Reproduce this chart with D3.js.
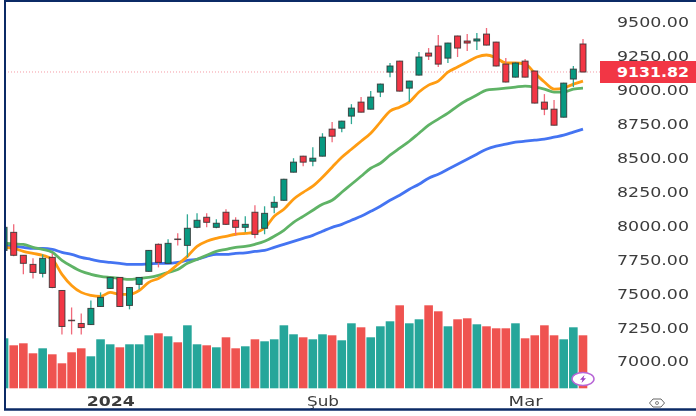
<!DOCTYPE html>
<html>
<head>
<meta charset="utf-8">
<script src="https://cdnjs.cloudflare.com/ajax/libs/d3/7.8.5/d3.min.js"></script>
<style>
    html, body { margin: 0; padding: 0; background: #fff; }
    svg { display: block; }
    text { font-family: "DejaVu Sans", sans-serif; }
    .marks { filter: blur(0.5px); }
    .labels { filter: blur(0.4px); }
</style>
</head>
<body>
<div id="chart"></div>
<script>
// candles
var opens = [7818, 7951, 7782, 7715, 7649, 7767, 7523, 7304, 7280, 7272, 7405, 7538, 7619, 7413, 7568, 7664, 7863, 7723, 7902, 7855, 7988, 8062, 7988, 8099, 8040, 7988, 8099, 7981, 8136, 8187, 8394, 8512, 8475, 8512, 8711, 8718, 8807, 8910, 8858, 8984, 9131, 9212, 9013, 9109, 9271, 9323, 9234, 9397, 9360, 9360, 9411, 9352, 9190, 9094, 9212, 9139, 8910, 8858, 8799, 9080, 9338];
var highs = [7995, 8010, 7782, 7760, 7789, 7796, 7525, 7398, 7354, 7450, 7509, 7622, 7622, 7548, 7622, 7821, 7870, 7900, 7944, 8084, 8091, 8091, 8047, 8121, 8062, 8069, 8150, 8143, 8217, 8345, 8497, 8515, 8578, 8681, 8763, 8773, 8895, 8947, 8991, 9046, 9198, 9215, 9068, 9279, 9308, 9404, 9348, 9400, 9411, 9419, 9456, 9355, 9234, 9205, 9227, 9142, 8969, 8925, 9053, 9176, 9375];
var lows = [7810, 7775, 7642, 7612, 7619, 7540, 7199, 7199, 7199, 7268, 7403, 7535, 7402, 7384, 7530, 7660, 7693, 7720, 7855, 7767, 7981, 7988, 7981, 8005, 7929, 7951, 7907, 7937, 8091, 8184, 8392, 8438, 8438, 8510, 8615, 8689, 8748, 8833, 8855, 8947, 9094, 8988, 8910, 9106, 9220, 9168, 9198, 9242, 9286, 9294, 9327, 9173, 9055, 9091, 9091, 8900, 8814, 8737, 8796, 9021, 9129];
var closes = [7988, 7782, 7723, 7656, 7760, 7545, 7258, 7300, 7250, 7391, 7472, 7619, 7405, 7545, 7619, 7818, 7730, 7870, 7898, 7981, 8040, 8025, 8018, 8010, 7988, 8010, 7936, 8091, 8172, 8342, 8468, 8468, 8497, 8652, 8659, 8770, 8866, 8836, 8947, 9043, 9176, 8991, 9065, 9242, 9249, 9190, 9345, 9308, 9345, 9375, 9330, 9176, 9058, 9198, 9094, 8903, 8858, 8740, 9050, 9153, 9131.82];
var volumes = [50, 43, 45, 35, 40, 34, 25, 36, 40, 32, 49, 44, 41, 44, 44, 53, 55, 52, 46, 63, 44, 43, 41, 51, 40, 42, 49, 47, 49, 63, 54, 51, 49, 54, 53, 48, 65, 61, 51, 62, 67, 83, 65, 69, 83, 77, 62, 69, 70, 64, 62, 60, 60, 65, 50, 53, 63, 53, 49, 61, 53];

// moving averages
var maShort = [7841, 7833, 7811, 7796, 7782, 7752, 7642, 7560, 7509, 7487, 7479, 7509, 7494, 7494, 7523, 7583, 7612, 7656, 7715, 7774, 7848, 7885, 7907, 7922, 7937, 7944, 7951, 7981, 8069, 8121, 8195, 8246, 8291, 8357, 8431, 8504, 8563, 8622, 8681, 8763, 8844, 8873, 8910, 8984, 9035, 9065, 9131, 9168, 9205, 9242, 9257, 9235, 9198, 9198, 9190, 9124, 9058, 9006, 9013, 9043, 9065];
var maMid = [7870, 7866, 7863, 7841, 7826, 7804, 7745, 7701, 7664, 7642, 7627, 7619, 7612, 7605, 7612, 7619, 7634, 7656, 7678, 7723, 7752, 7782, 7811, 7826, 7841, 7848, 7863, 7885, 7922, 7966, 8025, 8069, 8114, 8158, 8187, 8246, 8305, 8364, 8423, 8460, 8519, 8571, 8622, 8681, 8740, 8785, 8829, 8881, 8925, 8962, 8999, 9006, 9013, 9021, 9028, 9021, 9006, 8984, 8984, 9006, 9013];
var maLong = [7855, 7848, 7841, 7833, 7833, 7826, 7804, 7789, 7767, 7752, 7737, 7730, 7723, 7715, 7715, 7719, 7723, 7723, 7730, 7745, 7752, 7774, 7789, 7789, 7796, 7800, 7811, 7818, 7841, 7863, 7885, 7907, 7929, 7959, 7988, 8010, 8040, 8069, 8106, 8143, 8187, 8224, 8268, 8305, 8350, 8379, 8416, 8453, 8490, 8527, 8563, 8586, 8600, 8615, 8622, 8630, 8637, 8652, 8667, 8689, 8711];

// axes
var priceTicks = [9500, 9250, 9000, 8750, 8500, 8250, 8000, 7750, 7500, 7250, 7000];
var timeTicks = [11, 33, 54];
var timeLabels = ["2024", "Şub", "Mar"];
var timeLabelWidths = [48, 32, 34];
var lastPrice = 9131.82;

var width = 696, height = 416;
var candleData = d3.range(opens.length);

var xScale = d3.scaleLinear().domain([0, 60]).range([4.05, 583]);
var yScale = d3.scaleLinear().domain([7000, 9500]).range([361.5, 22]);
var volScale = d3.scaleLinear().domain([0, 100]).range([388.3, 288.3]);

var upColor = "#089981", downColor = "#f23645";
var upVol = "#26a69a", downVol = "#ef5350";

var svg = d3.select("#chart")
    .append("svg")
    .attr("width", width)
    .attr("height", height);

svg.append("defs")
    .append("clipPath")
    .attr("id", "plotClip")
    .append("rect")
    .attr("x", 5).attr("y", 0)
    .attr("width", 595).attr("height", 390);

var plot = svg.append("g")
    .attr("class", "marks")
    .attr("clip-path", "url(#plotClip)");

// volume bars
plot.selectAll("rect.vol")
    .data(candleData)
    .enter()
    .append("rect")
    .attr("class", "vol")
    .attr("x", i => xScale(i) - 4.3)
    .attr("width", 8.6)
    .attr("y", i => volScale(volumes[i]))
    .attr("height", i => volScale(0) - volScale(volumes[i]))
    .attr("fill", i => closes[i] >= opens[i] ? upVol : downVol);

// last price line
plot.append("line")
    .attr("x1", 5).attr("x2", 600)
    .attr("y1", yScale(lastPrice)).attr("y2", yScale(lastPrice))
    .attr("stroke", "#f59aa4")
    .attr("stroke-width", 1)
    .attr("stroke-dasharray", "1,2");

// moving average lines
var line = d3.line()
    .curve(d3.curveMonotoneX)
    .x((d, i) => xScale(i))
    .y(d => yScale(d));

plot.append("path").attr("d", line(maLong))
    .attr("fill", "none").attr("stroke", "#4474f2").attr("stroke-width", 2.8);
plot.append("path").attr("d", line(maMid))
    .attr("fill", "none").attr("stroke", "#5fb366").attr("stroke-width", 2.8);
plot.append("path").attr("d", line(maShort))
    .attr("fill", "none").attr("stroke", "#ff9c12").attr("stroke-width", 2.8);

// candles
var candles = plot.selectAll("g.candle")
    .data(candleData)
    .enter()
    .append("g")
    .attr("class", "candle");

candles.append("line")
    .attr("x1", i => xScale(i)).attr("x2", i => xScale(i))
    .attr("y1", i => yScale(highs[i]))
    .attr("y2", i => yScale(lows[i]))
    .attr("stroke", i => closes[i] >= opens[i] ? "#2fa894" : "#f0697a")
    .attr("stroke-width", 1.3);

candles.append("rect")
    .attr("x", i => xScale(i) - 3)
    .attr("width", 6)
    .attr("y", i => yScale(Math.max(opens[i], closes[i])))
    .attr("height", i => Math.abs(yScale(opens[i]) - yScale(closes[i])))
    .attr("fill", i => closes[i] >= opens[i] ? upColor : downColor)
    .attr("stroke", "#333")
    .attr("stroke-opacity", 0.85)
    .attr("stroke-width", 1);

var labels = svg.append("g").attr("class", "labels");

// price axis
var yAxis = d3.axisRight(yScale)
    .tickValues(priceTicks)
    .tickSize(0)
    .tickPadding(0)
    .tickFormat(d3.format(".2f"));

var yAxisG = labels.append("g")
    .attr("transform", "translate(617,0)")
    .call(yAxis);
yAxisG.select(".domain").remove();
yAxisG.selectAll("text")
    .attr("font-size", 14)
    .attr("font-family", "DejaVu Sans")
    .attr("fill", "#3c3c3c")
    .attr("textLength", 72)
    .attr("lengthAdjust", "spacingAndGlyphs");

// time axis
var xAxis = d3.axisBottom(xScale)
    .tickValues(timeTicks)
    .tickSize(0)
    .tickPadding(0)
    .tickFormat((d, i) => timeLabels[i]);

var xAxisG = labels.append("g")
    .attr("transform", "translate(0,396)")
    .call(xAxis);
xAxisG.select(".domain").remove();
xAxisG.selectAll("text")
    .attr("font-size", 14)
    .attr("font-family", "DejaVu Sans")
    .attr("fill", "#3c3c3c")
    .attr("font-weight", (d, i) => i == 0 ? "bold" : "normal")
    .attr("textLength", (d, i) => timeLabelWidths[i])
    .attr("lengthAdjust", "spacingAndGlyphs");

// last price tag
labels.append("rect")
    .attr("x", 600).attr("y", yScale(lastPrice) - 11)
    .attr("width", 96).attr("height", 22)
    .attr("fill", "#f23645");
labels.append("text")
    .attr("x", 617).attr("y", yScale(lastPrice))
    .attr("dy", "0.36em")
    .attr("font-size", 14)
    .attr("font-weight", "bold")
    .attr("fill", "#fff")
    .attr("textLength", 72)
    .attr("lengthAdjust", "spacingAndGlyphs")
    .text(d3.format(".2f")(lastPrice));

// lightning badge
var badge = labels.append("g").attr("transform", "translate(583,379)");
badge.append("ellipse")
    .attr("rx", 11).attr("ry", 6.5)
    .attr("fill", "#fff")
    .attr("stroke", "#b765d6")
    .attr("stroke-width", 1.5);
badge.append("path")
    .attr("d", "M1.5,-4L-3,0.8L-0.5,0.8L-1.5,4L3,-0.8L0.5,-0.8Z")
    .attr("fill", "#9b3fc4");

// eye icon
var eye = labels.append("g").attr("transform", "translate(657,403)");
eye.append("path")
    .attr("d", "M-7.5,0L-4,-4L4,-4L7.5,0L4,4L-4,4Z")
    .attr("fill", "none")
    .attr("stroke", "#666")
    .attr("stroke-width", 1);
eye.append("circle")
    .attr("r", 1.5)
    .attr("fill", "none")
    .attr("stroke", "#666")
    .attr("stroke-width", 0.8);

// frame
svg.append("line").attr("x1", 5).attr("x2", 5).attr("y1", 0).attr("y2", 410)
    .attr("stroke", "#0b2a66").attr("stroke-width", 2);
svg.append("line").attr("x1", 4).attr("x2", width).attr("y1", 1).attr("y2", 1)
    .attr("stroke", "#0b2a66").attr("stroke-width", 2);
svg.append("line").attr("x1", 4).attr("x2", width).attr("y1", 409.5).attr("y2", 409.5)
    .attr("stroke", "#0b2a66").attr("stroke-width", 2.4);
</script>
</body>
</html>
